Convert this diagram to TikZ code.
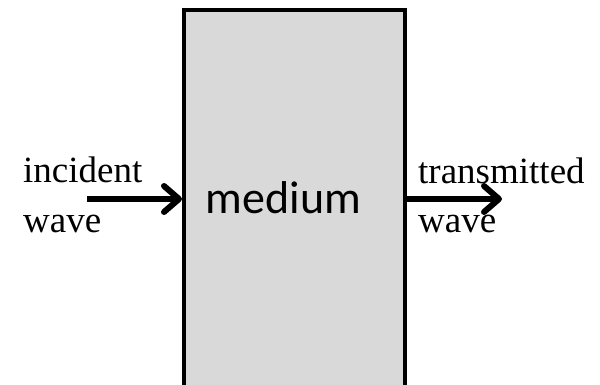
\documentclass[tikz,border=0pt]{standalone}
\usepackage{fontspec}
\setmainfont{Liberation Serif}
\newfontfamily\labelsans{Carlito}
\usetikzlibrary{arrows.meta}
\begin{document}
\begin{tikzpicture}[x=1pt, y=-1pt, >={Straight Barb[length=15pt, width=26pt, line cap=round, line join=round]},
    wavelabel/.style={font=\fontsize{37}{50}\selectfont, align=left, inner sep=0pt, anchor=base west},
    wavearrow/.style={->, line width=6pt}]
    \useasboundingbox (0, 0) rectangle (600, 385);
    % Medium
    \draw[fill={rgb,255:red,217;green,217;blue,217}, line width=3.5pt] (184, 395) rectangle (405, 10);
    \node[font=\labelsans\fontsize{46}{50}\selectfont, inner sep=0pt, anchor=base] (medium) at (283.5, 214) {medium};
    \coordinate (inlet) at (182, 199);
    \coordinate (outlet) at (405, 199);
    
    % Incident wave
    \node[wavelabel] (incident) at (23, 232) {incident\\wave};
    \coordinate (instart) at (87, 199);
    \draw[wavearrow] (instart) -- (inlet);
    
    % Transmitted wave
    \node[wavelabel] (transmitted) at (418, 233) {transmitted\\wave};
    \coordinate (outend) at (502, 199);
    \draw[wavearrow] (outlet) -- (outend);
\end{tikzpicture}
\end{document}
